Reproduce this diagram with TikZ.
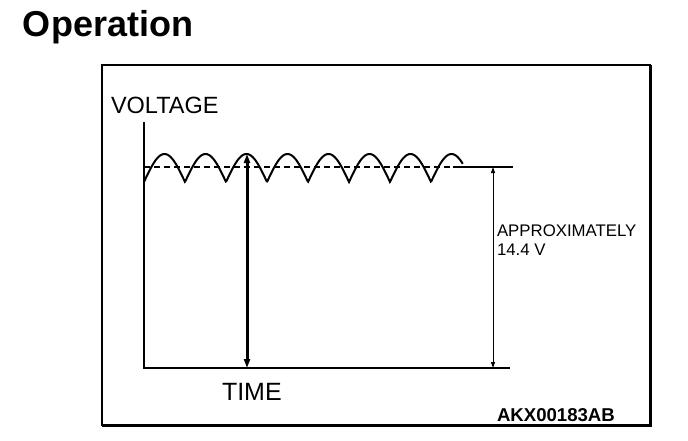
\documentclass[tikz,border=0pt]{standalone}
\usepackage{fontspec}
\setmainfont{Liberation Sans}
\usetikzlibrary{arrows.meta}
\tikzset{peaktip/.tip={Triangle[length=9pt,width=6pt]},
dimtip/.tip={Triangle[length=6pt,width=4pt]}}
\begin{document}
\begin{tikzpicture}[x=1pt,y=-1pt,inner sep=0pt,outer sep=0pt,line width=1.4pt,
txt/.style={anchor=base west}]
\useasboundingbox (0,0) rectangle (688,440);
\draw (23,36) node[txt] (title) {\fontsize{36}{36}\selectfont\bfseries Operation};
% frame
\draw (102,65) rectangle (650,425);
\draw[line width=3pt] (650,65) -- (650,425) -- (102,425);
% axes
\coordinate (top) at (144,122);
\coordinate (origin) at (144,368);
\coordinate (xend) at (510,368);
\draw (top) -- (origin) -- (xend);
\draw (111,113) node[txt] (volt) {\fontsize{23.5}{23.5}\selectfont VOLTAGE};
\draw (222,400) node[txt] (time) {\fontsize{25}{25}\selectfont TIME};
% ripple and mean level
\draw[line width=1.2pt,dash pattern=on 6pt off 4pt] (144,167) -- (453,167);
\draw[line width=2pt,line join=miter] plot[domain=0:7.78,samples=500] ({144+41*\x},{182-28*abs(sin(180*\x))});
\coordinate (lvl) at (453,167);
\coordinate (lvlend) at (513,167);
\draw (lvl) -- (lvlend);
% peak arrow
\coordinate (peak) at (247,154);
\coordinate (foot) at (247,368);
\draw[line width=3pt,{peaktip}-{peaktip}] (peak) -- (foot);
% dimension
\coordinate (dtop) at (493,167);
\coordinate (dbot) at (493,368);
\draw[line width=1pt,{dimtip}-{dimtip}] (dtop) -- (dbot);
\draw (497,236) node[txt] (approx) {\fontsize{16.8}{16.8}\selectfont APPROXIMATELY};
\draw (497,255) node[txt] (volts) {\fontsize{16.8}{16.8}\selectfont 14.4 V};
\draw (497,421) node[txt] (code) {\fontsize{18.6}{18.6}\selectfont\bfseries AKX00183AB};
\end{tikzpicture}
\end{document}
